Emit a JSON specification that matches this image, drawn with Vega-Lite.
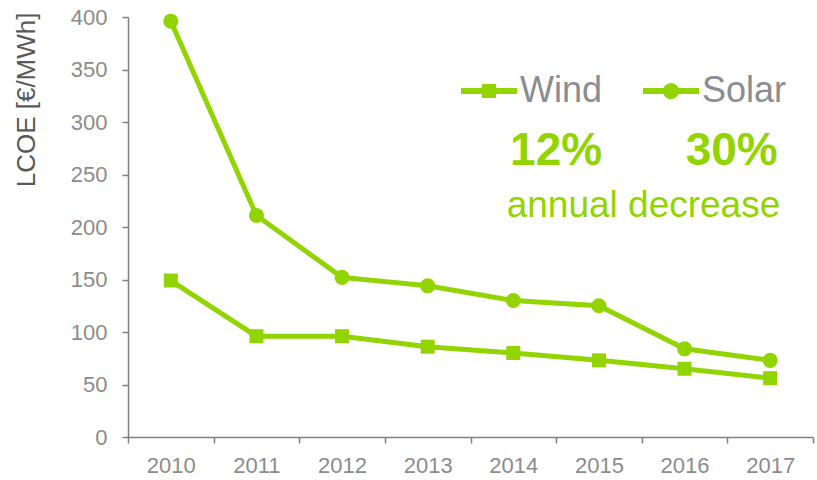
{
  "$schema": "https://vega.github.io/schema/vega-lite/v6.json",
  "width": 685,
  "height": 420,
  "autosize": "none",
  "padding": {"left": 128, "top": 17, "right": 4, "bottom": 43},
  "background": "white",
  "config": {
    "view": {"stroke": null},
    "font": "Liberation Sans",
    "axis": {
      "labelFont": "Liberation Sans",
      "titleFont": "Liberation Sans",
      "labelColor": "#8c8c8c",
      "domainColor": "#808080",
      "tickColor": "#808080",
      "domainWidth": 1.5,
      "tickWidth": 1.5,
      "tickSize": 6,
      "grid": false
    }
  },
  "datasets": {
    "lcoe": [
      {"year": "2010", "series": "Wind", "lcoe": 149},
      {"year": "2011", "series": "Wind", "lcoe": 96},
      {"year": "2012", "series": "Wind", "lcoe": 96},
      {"year": "2013", "series": "Wind", "lcoe": 86},
      {"year": "2014", "series": "Wind", "lcoe": 80},
      {"year": "2015", "series": "Wind", "lcoe": 73},
      {"year": "2016", "series": "Wind", "lcoe": 65},
      {"year": "2017", "series": "Wind", "lcoe": 56},
      {"year": "2010", "series": "Solar", "lcoe": 396},
      {"year": "2011", "series": "Solar", "lcoe": 211},
      {"year": "2012", "series": "Solar", "lcoe": 152},
      {"year": "2013", "series": "Solar", "lcoe": 144},
      {"year": "2014", "series": "Solar", "lcoe": 130},
      {"year": "2015", "series": "Solar", "lcoe": 125},
      {"year": "2016", "series": "Solar", "lcoe": 84},
      {"year": "2017", "series": "Solar", "lcoe": 73}
    ],
    "notes": [
      {"text": "12%", "pos": 2014.5, "lcoe": 259, "kind": "pct"},
      {"text": "30%", "pos": 2016.55, "lcoe": 259, "kind": "pct"},
      {"text": "annual decrease", "pos": 2015.52, "lcoe": 209.5, "kind": "sub"}
    ]
  },
  "encoding": {
    "y": {
      "field": "lcoe",
      "type": "quantitative",
      "scale": {"domain": [0, 400], "nice": false},
      "axis": {
        "title": "LCOE [€/MWh]",
        "values": [0, 50, 100, 150, 200, 250, 300, 350, 400],
        "labelFontSize": 22,
        "labelPadding": 15,
        "titleFontSize": 26,
        "titleFontWeight": "normal",
        "titleColor": "#595959",
        "titleAngle": -90,
        "titleAlign": "right",
        "titleBaseline": "bottom",
        "titleX": -89,
        "titleY": -5
      }
    }
  },
  "layer": [
    {
      "data": {"name": "lcoe"},
      "encoding": {
        "x": {
          "field": "year",
          "type": "ordinal",
          "bandPosition": 0.5,
          "scale": {"type": "band", "paddingInner": 0, "paddingOuter": 0},
          "axis": {
            "title": null,
            "labelAngle": 0,
            "tickBand": "extent",
            "labelFontSize": 22,
            "labelPadding": 12
          }
        }
      },
      "layer": [
        {
          "mark": {"type": "line", "strokeWidth": 5, "color": "#92D400"},
          "encoding": {
            "color": {
              "field": "series",
              "type": "nominal",
              "scale": {"domain": ["Wind", "Solar"], "range": ["#92D400", "#92D400"]},
              "legend": {
                "orient": "none",
                "legendX": 343,
                "legendY": 56,
                "direction": "horizontal",
                "title": null,
                "padding": 0,
                "labelFont": "Liberation Sans",
                "labelFontSize": 36,
                "labelColor": "#8a8d91",
                "labelOffset": 13,
                "columnPadding": 40,
                "symbolSize": 784,
                "encode": {
                  "symbols": {
                    "update": {
                      "shape": {"signal": "datum.value === 'Wind' ? 'M-2,-0.21H2V0.21H-2Z M-0.5,-0.5H0.5V0.5H-0.5Z' : 'M-2,-0.21H2V0.21H-2Z M-0.58,0A0.58,0.58 0 1,1 0.58,0A0.58,0.58 0 1,1 -0.58,0Z'"},
                      "fill": {"value": "#92D400"},
                      "fillOpacity": {"value": 1},
                      "stroke": {"value": "transparent"},
                      "strokeWidth": {"value": 0},
                      "size": {"value": 784}
                    }
                  }
                }
              }
            }
          }
        },
        {
          "transform": [{"filter": "datum.series === 'Wind'"}],
          "mark": {"type": "point", "shape": "square", "filled": true, "opacity": 1, "size": 196, "color": "#92D400"}
        },
        {
          "transform": [{"filter": "datum.series === 'Solar'"}],
          "mark": {"type": "point", "shape": "circle", "filled": true, "opacity": 1, "size": 227, "color": "#92D400"}
        }
      ]
    },
    {
      "data": {"name": "notes"},
      "encoding": {
        "x": {"field": "pos", "type": "quantitative", "scale": {"domain": [2009.5, 2017.5], "nice": false, "zero": false}, "axis": null},
        "text": {"field": "text", "type": "nominal"}
      },
      "layer": [
        {
          "transform": [{"filter": "datum.kind === 'pct'"}],
          "mark": {"type": "text", "align": "center", "baseline": "alphabetic", "fontSize": 46, "fontWeight": "bold", "color": "#92D400", "font": "Liberation Sans"}
        },
        {
          "transform": [{"filter": "datum.kind === 'sub'"}],
          "mark": {"type": "text", "align": "center", "baseline": "alphabetic", "fontSize": 37, "color": "#92D400", "font": "Liberation Sans"}
        }
      ]
    }
  ],
  "resolve": {"scale": {"x": "independent"}}
}
